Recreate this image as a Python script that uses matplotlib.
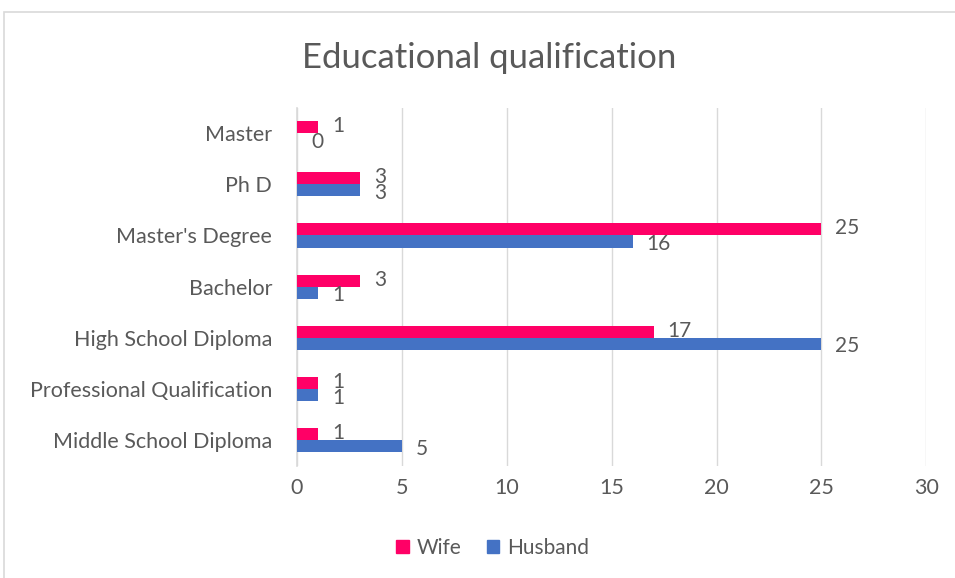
import matplotlib.pyplot as plt
import matplotlib.patches as mpatches
import numpy as np

plt.rcParams['font.family'] = ['Lato', 'DejaVu Sans']

# Data
categories = ["Middle School Diploma", "Professional Qualification", "High School Diploma",
              "Bachelor", "Master's Degree", "Ph D", "Master"]
wife = [1, 1, 17, 3, 25, 3, 1]
husband = [5, 1, 25, 1, 16, 3, 0]

wife_color = '#FF0066'
husband_color = '#4472C4'
text_color = '#595959'

fig = plt.figure(figsize=(9.55, 5.78), dpi=100)
ax = fig.add_axes([0.311, 0.194, 0.659, 0.62])

y = np.arange(len(categories))
h = 0.235
ax.barh(y + h / 2, wife, height=h, color=wife_color, label='Wife', zorder=3)
ax.barh(y - h / 2, husband, height=h, color=husband_color, label='Husband', zorder=3)

for yi, w, hb in zip(y, wife, husband):
    ax.annotate(str(w), (w, yi + h / 2 + 0.02), xytext=(10, 0), textcoords='offset points',
                ha='left', va='center', fontsize=15, color=text_color)
    ax.annotate(str(hb), (hb, yi - h / 2 - 0.05), xytext=(10, 0), textcoords='offset points',
                ha='left', va='center', fontsize=15, color=text_color)

ax.set_xlim(0, 30)
ax.set_ylim(-0.5, len(categories) - 0.5)
ax.set_xticks(np.arange(0, 31, 5))
ax.set_yticks(y)
ax.set_yticklabels(categories)
ax.tick_params(axis='both', length=0, labelsize=15.5, colors=text_color)
ax.tick_params(axis='x', pad=9)
ax.tick_params(axis='y', pad=18)
ax.grid(axis='x', color='#d9d9d9', linewidth=1, zorder=0)
for s in ['top', 'right', 'bottom']:
    ax.spines[s].set_visible(False)
ax.spines['left'].set_color('#d9d9d9')
ax.spines['left'].set_linewidth(1.2)

fig.text(0.512, 0.9, 'Educational qualification', ha='center', va='center',
         fontsize=25, color=text_color)

handles = [mpatches.Patch(color=wife_color, label='Wife'),
           mpatches.Patch(color=husband_color, label='Husband')]
fig.legend(handles=handles, loc='center', bbox_to_anchor=(0.516, 0.052), ncol=2,
           frameon=False, fontsize=15, labelcolor=text_color, handlelength=0.6,
           handleheight=0.6, columnspacing=1.2, handletextpad=0.4)

# chart border
fig.patches.append(mpatches.Rectangle((0.004, -0.01), 1.1, 0.99, transform=fig.transFigure,
                                      fill=False, edgecolor='#d9d9d9', linewidth=1.2))

fig.savefig('out.png', dpi=100)
